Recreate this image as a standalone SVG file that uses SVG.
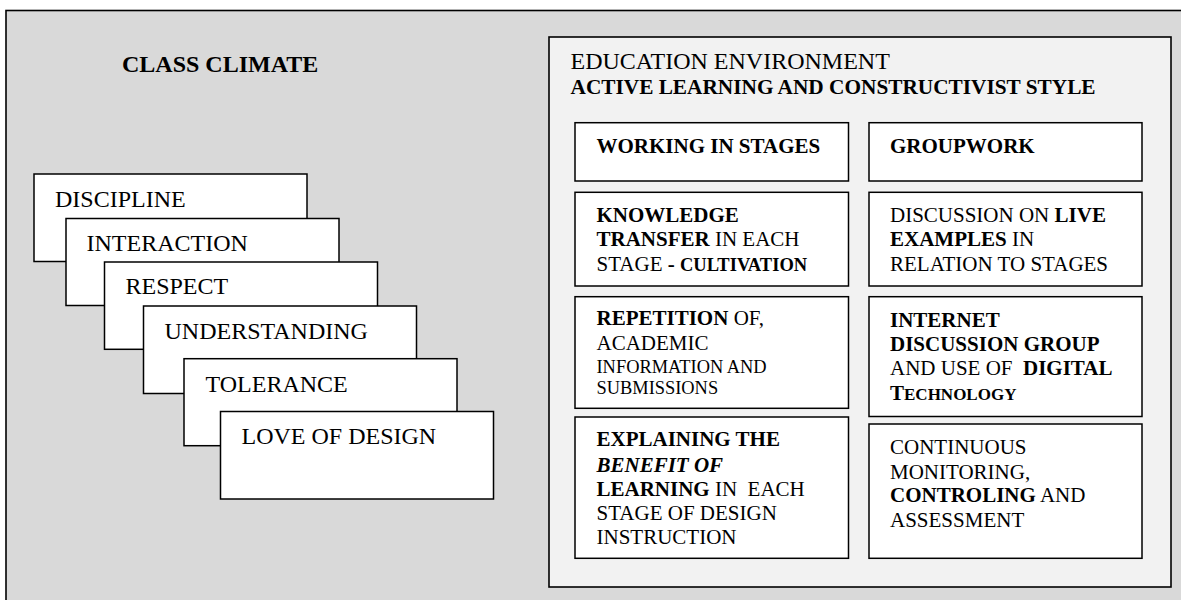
<svg xmlns="http://www.w3.org/2000/svg" width="1181" height="600" viewBox="0 0 1181 600">
  <style>
    text { font-family: "Liberation Serif", "Times New Roman", serif; fill: #000; }
    .frame { fill: #d9d9d9; stroke: #000; stroke-width: 1.6; }
    .env { fill: #f2f2f2; stroke: #000; stroke-width: 1.6; }
    .card { fill: #fff; stroke: #000; stroke-width: 1.5; }
    .cell { fill: #fff; stroke: #000; stroke-width: 1.5; }
    .big { font-size: 24px; }
    .t { font-size: 21px; }
    .sub { font-size: 21.3px; font-weight: bold; }
    .b { font-weight: bold; }
    .s { font-size: 18.4px; }
    .sc { font-size: 18.5px; font-weight: bold; }
  </style>

  <!-- background panel -->
  <rect id="class-climate-panel" class="frame" x="6" y="10.5" width="1185" height="600"/>
  <text id="class-climate-title" class="big b" x="122" y="71.5">CLASS CLIMATE</text>

  <!-- stacked climate cards -->
  <g id="card-discipline">
    <rect class="card" x="34" y="174" width="273" height="87.5"/>
    <text class="big" x="55" y="206.7">DISCIPLINE</text>
  </g>
  <g id="card-interaction">
    <rect class="card" x="66" y="218.5" width="273" height="87"/>
    <text class="big" x="86.5" y="251.2">INTERACTION</text>
  </g>
  <g id="card-respect">
    <rect class="card" x="104.5" y="262" width="273" height="87.3"/>
    <text class="big" x="125.5" y="294">RESPECT</text>
  </g>
  <g id="card-understanding">
    <rect class="card" x="143.5" y="306" width="273" height="87.5"/>
    <text class="big" x="164.5" y="339">UNDERSTANDING</text>
  </g>
  <g id="card-tolerance">
    <rect class="card" x="184" y="358.7" width="273" height="87"/>
    <text class="big" x="205.5" y="391.7">TOLERANCE</text>
  </g>
  <g id="card-love">
    <rect class="card" x="220.5" y="411.5" width="273" height="87.5"/>
    <text class="big" x="241.5" y="443.5">LOVE OF DESIGN</text>
  </g>

  <!-- education environment panel -->
  <g id="education-environment">
    <rect class="env" x="549" y="37" width="622" height="550"/>
    <text class="big" x="570.5" y="69">EDUCATION ENVIRONMENT</text>
    <text class="sub" x="570.5" y="94.3">ACTIVE LEARNING AND CONSTRUCTIVIST STYLE</text>
  </g>

  <g id="cell-working-in-stages">
    <rect class="cell" x="575" y="122.7" width="273.5" height="58.3"/>
    <text class="t b" x="596.5" y="153.3">WORKING IN STAGES</text>
  </g>
  <g id="cell-groupwork">
    <rect class="cell" x="869" y="122.7" width="273" height="58.3"/>
    <text class="t b" x="890" y="153.3">GROUPWORK</text>
  </g>

  <g id="cell-knowledge-transfer">
    <rect class="cell" x="575" y="192.3" width="273.5" height="93.7"/>
    <text class="t" xml:space="preserve"><tspan class="b" x="596.5" y="221.7">KNOWLEDGE</tspan><tspan x="596.5" y="246"><tspan class="b">TRANSFER</tspan> IN EACH</tspan><tspan x="596.5" y="270.7">STAGE <tspan class="b">- </tspan><tspan class="sc">CULTIVATION</tspan></tspan></text>
  </g>
  <g id="cell-live-examples">
    <rect class="cell" x="869" y="192.3" width="273" height="93.7"/>
    <text class="t" xml:space="preserve"><tspan x="890" y="221.7">DISCUSSION ON <tspan class="b">LIVE</tspan></tspan><tspan x="890" y="246"><tspan class="b">EXAMPLES</tspan> IN</tspan><tspan x="890" y="270.7">RELATION TO STAGES</tspan></text>
  </g>

  <g id="cell-repetition">
    <rect class="cell" x="575" y="296.7" width="273.5" height="111.6"/>
    <text class="t" xml:space="preserve"><tspan x="596.5" y="325"><tspan class="b">REPETITION</tspan> OF,</tspan><tspan x="596.5" y="350">ACADEMIC</tspan><tspan class="s" x="596.5" y="372.7">INFORMATION AND</tspan><tspan class="s" x="596.5" y="394.3">SUBMISSIONS</tspan></text>
  </g>
  <g id="cell-internet-discussion">
    <rect class="cell" x="869" y="296.7" width="273" height="119.8"/>
    <text class="t" xml:space="preserve"><tspan class="b" x="890" y="326.7">INTERNET</tspan><tspan class="b" x="890" y="350.7">DISCUSSION GROUP</tspan><tspan x="890" y="375">AND USE OF  <tspan class="b">DIGITAL</tspan></tspan><tspan x="890" y="400"><tspan class="b">T</tspan><tspan class="b" style="font-size:17px">ECHNOLOGY</tspan></tspan></text>
  </g>

  <g id="cell-benefit-of-learning">
    <rect class="cell" x="575" y="417" width="273.5" height="141.3"/>
    <text class="t" xml:space="preserve"><tspan class="b" x="596.5" y="446">EXPLAINING THE</tspan><tspan class="b" x="596.5" y="471.7" font-style="italic">BENEFIT OF</tspan><tspan x="596.5" y="496"><tspan class="b">LEARNING</tspan> IN  EACH</tspan><tspan x="596.5" y="520">STAGE OF DESIGN</tspan><tspan x="596.5" y="544.3">INSTRUCTION</tspan></text>
  </g>
  <g id="cell-monitoring">
    <rect class="cell" x="869" y="424" width="273" height="134.3"/>
    <text class="t" xml:space="preserve"><tspan x="890" y="454.3">CONTINUOUS</tspan><tspan x="890" y="479">MONITORING,</tspan><tspan x="890" y="502.3"><tspan class="b">CONTROLING</tspan> AND</tspan><tspan x="890" y="527.3">ASSESSMENT</tspan></text>
  </g>

  <!-- no connectors in this layout -->
  <g id="connectors"/>
</svg>
